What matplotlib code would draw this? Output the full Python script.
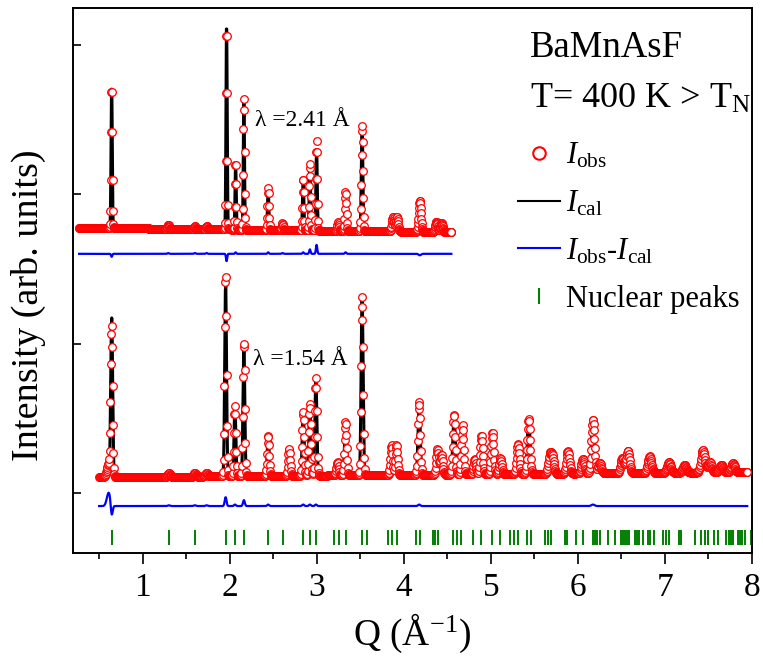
import numpy as np
import matplotlib.pyplot as plt
from matplotlib.lines import Line2D
from matplotlib.ticker import MultipleLocator

plt.rcParams['font.family'] = ['Liberation Serif', 'DejaVu Serif']
plt.rcParams['mathtext.fontset'] = 'custom'
plt.rcParams['mathtext.rm'] = 'Liberation Serif'
plt.rcParams['mathtext.it'] = 'Liberation Serif:italic'

# ---- lambda = 2.41 A pattern (upper, offset) ----
up_q_range = [0.27, 4.55]
up_step = 0.004
up_bkg = [1.775, 1.745]          # background at start / end
up_pos = [0.644, 1.294, 1.600, 1.735, 1.964, 2.068, 2.163, 2.442, 2.607,
          2.844, 2.921, 2.998, 3.246, 3.331, 3.521, 3.877, 3.923, 4.184,
          4.375, 4.433]
up_cal = [0.97, 0.02, 0.015, 0.015, 1.40, 0.44, 0.88, 0.27, 0.04,
          0.34, 0.42, 0.54, 0.06, 0.25, 0.71, 0.10, 0.10, 0.22,
          0.07, 0.06]
up_obs = [0.95, 0.025, 0.02, 0.02, 1.35, 0.45, 0.88, 0.28, 0.045,
          0.35, 0.45, 0.60, 0.06, 0.26, 0.71, 0.10, 0.10, 0.21,
          0.07, 0.06]
up_fwhm = [0.016, 0.02, 0.02, 0.02, 0.016, 0.016, 0.016, 0.018, 0.02,
           0.018, 0.018, 0.018, 0.02, 0.02, 0.02, 0.03, 0.03, 0.032,
           0.032, 0.032]
up_diff_offset = 1.60

# ---- lambda = 1.54 A pattern (lower) ----
lo_q_range = [0.50, 7.95]
lo_step = 0.005
lo_bkg = [0.105, 0.14]
lo_pos = [0.644, 1.302, 1.600, 1.735, 1.953, 2.060, 2.163, 2.442, 2.683,
          2.844, 2.921, 2.990, 3.239, 3.331, 3.521, 3.859, 3.916, 4.176,
          4.387, 4.433, 4.577, 4.674, 4.815, 4.892, 5.018, 5.110, 5.312,
          5.435, 5.676, 5.707, 5.886, 6.058, 6.173, 6.250, 6.511, 6.575,
          6.824, 7.046, 7.226, 7.436, 7.513, 7.648, 7.781]
lo_cal = [1.07, 0.02, 0.02, 0.02, 1.30, 0.46, 0.86, 0.26, 0.18,
          0.42, 0.47, 0.64, 0.09, 0.36, 1.20, 0.20, 0.20, 0.48,
          0.17, 0.13, 0.40, 0.33, 0.10, 0.26, 0.28, 0.11, 0.20,
          0.37, 0.11, 0.11, 0.15, 0.10, 0.35, 0.07, 0.10, 0.15,
          0.11, 0.07, 0.05, 0.15, 0.07, 0.05, 0.06]
lo_obs = [0.99, 0.025, 0.025, 0.025, 1.36, 0.47, 0.90, 0.27, 0.18,
          0.43, 0.48, 0.65, 0.09, 0.36, 1.20, 0.20, 0.20, 0.49,
          0.17, 0.13, 0.40, 0.33, 0.10, 0.26, 0.28, 0.11, 0.20,
          0.37, 0.11, 0.11, 0.15, 0.10, 0.36, 0.07, 0.10, 0.15,
          0.11, 0.07, 0.05, 0.15, 0.07, 0.05, 0.06]
lo_fwhm = [0.026, 0.03, 0.03, 0.03, 0.024, 0.024, 0.024, 0.026, 0.028,
           0.026, 0.026, 0.026, 0.03, 0.028, 0.026, 0.03, 0.03, 0.03,
           0.032, 0.032, 0.032, 0.032, 0.034, 0.034, 0.035, 0.036, 0.036,
           0.036, 0.04, 0.04, 0.04, 0.042, 0.042, 0.042, 0.045, 0.045,
           0.05, 0.05, 0.05, 0.05, 0.05, 0.05, 0.05]
# low-angle tail seen only in the observed data
lo_tail = [0.61, 0.09, 0.05]     # position, height, fwhm
lo_diff_offset = -0.087

# nuclear reflection positions
nuc_q = [0.644, 1.302, 1.600, 1.953, 2.060, 2.163, 2.442, 2.607, 2.844, 2.921,
         2.990, 3.196, 3.257, 3.331, 3.521, 3.572, 3.813, 3.870, 3.923, 4.138,
         4.184, 4.330, 4.360, 4.390, 4.566, 4.612, 4.662, 4.796, 4.884, 5.018,
         5.102, 5.217, 5.263, 5.309, 5.416, 5.466, 5.619, 5.657, 5.696, 5.849,
         5.875, 5.983, 6.059, 6.173, 6.193, 6.219, 6.250, 6.346, 6.423, 6.500,
         6.520, 6.540, 6.560, 6.590, 6.660, 6.680, 6.700, 6.750, 6.805, 6.830,
         6.870, 6.977, 7.008, 7.046, 7.161, 7.188, 7.341, 7.418, 7.456, 7.494,
         7.559, 7.608, 7.705, 7.730, 7.760, 7.780, 7.838, 7.860, 7.880, 7.915,
         7.990]
nuc_y = [-0.248, -0.348]


def profile(q, pos, amp, fwhm):
    y = np.zeros_like(q)
    for p, a, w in zip(pos, amp, fwhm):
        s = w / 2.3548
        y += a * np.exp(-0.5 * ((q - p) / s) ** 2)
    return y


q_up = np.arange(up_q_range[0], up_q_range[1], up_step)
bkg_up = np.linspace(up_bkg[0], up_bkg[1], len(q_up))
cal_up = bkg_up + profile(q_up, up_pos, up_cal, up_fwhm)
obs_up = bkg_up + profile(q_up, up_pos, up_obs, up_fwhm)

q_lo = np.arange(lo_q_range[0], lo_q_range[1], lo_step)
bkg_lo = np.linspace(lo_bkg[0], lo_bkg[1], len(q_lo))
cal_lo = bkg_lo + profile(q_lo, lo_pos, lo_cal, lo_fwhm)
obs_lo = bkg_lo + profile(q_lo, lo_pos, lo_obs, lo_fwhm) \
    + profile(q_lo, [lo_tail[0]], [lo_tail[1]], [lo_tail[2]])

fig = plt.figure(figsize=(7.63, 6.69), dpi=100)
ax = fig.add_axes([0.0957, 0.1734, 0.8899, 0.8146])

mk = dict(ls='none', marker='o', ms=5.5, mfc='white', mec='#ff0000', mew=0.9, zorder=3)
for q, obs, cal, off in [(q_up, obs_up, cal_up, up_diff_offset),
                         (q_lo, obs_lo, cal_lo, lo_diff_offset)]:
    ax.plot(q, cal, color='black', lw=2.2, zorder=2)
    ax.plot(q, obs, **mk)
    ax.plot(q, obs - cal + off, color='#0000ff', lw=1.6, zorder=2)

ax.vlines(nuc_q, nuc_y[1], nuc_y[0], color='#008000', lw=1.4)

ax.set_xlim(0.2, 8.0)
ax.set_ylim(-0.401, 3.244)
ax.set_xticks(range(1, 9))
ax.xaxis.set_minor_locator(MultipleLocator(0.5))
ax.set_yticks([0, 1, 2, 3])
ax.set_yticklabels([])
ax.tick_params(axis='x', which='major', direction='out', length=8, width=1.2,
               labelsize=24, pad=6)
ax.tick_params(axis='x', which='minor', direction='out', length=4, width=1.2)
ax.tick_params(axis='y', direction='in', length=6, width=1.2)
for s in ax.spines.values():
    s.set_linewidth(1.4)

ax.set_xlabel('Q (Å$^{-1}$)', fontsize=27, labelpad=6)
ax.set_ylabel('Intensity (arb. units)', fontsize=27.5)
ax.yaxis.set_label_coords(-0.04, 0.455)

ax.text(0.673, 0.91, 'BaMnAsF', transform=ax.transAxes, fontsize=26.5, va='baseline')
ax.text(0.673, 0.8165, 'T= 400 K > T$_\\mathrm{N}$', transform=ax.transAxes,
        fontsize=26, va='baseline')
ax.text(2.29, 2.495, 'λ =2.41 Å', fontsize=17, va='center')
ax.text(2.27, 0.89, 'λ =1.54 Å', fontsize=17, va='center')

handles = [
    Line2D([], [], ls='none', marker='o', ms=9, mfc='white', mec='#ff0000', mew=1.5),
    Line2D([], [], color='black', lw=1.5),
    Line2D([], [], color='#0000ff', lw=1.5),
    Line2D([], [], ls='none', marker='|', ms=12, mew=1.5, color='#008000'),
]
labels = ['$I_{\\mathrm{obs}}$', '$I_{\\mathrm{cal}}$',
          '$I_{\\mathrm{obs}}$-$I_{\\mathrm{cal}}$', 'Nuclear peaks']
ax.legend(handles, labels, loc='upper left', bbox_to_anchor=(0.655, 0.756),
          frameon=False, fontsize=22, handlelength=1.37, handletextpad=0.2,
          labelspacing=0.6, borderpad=0, borderaxespad=0)

fig.savefig('out.png', dpi=100)
